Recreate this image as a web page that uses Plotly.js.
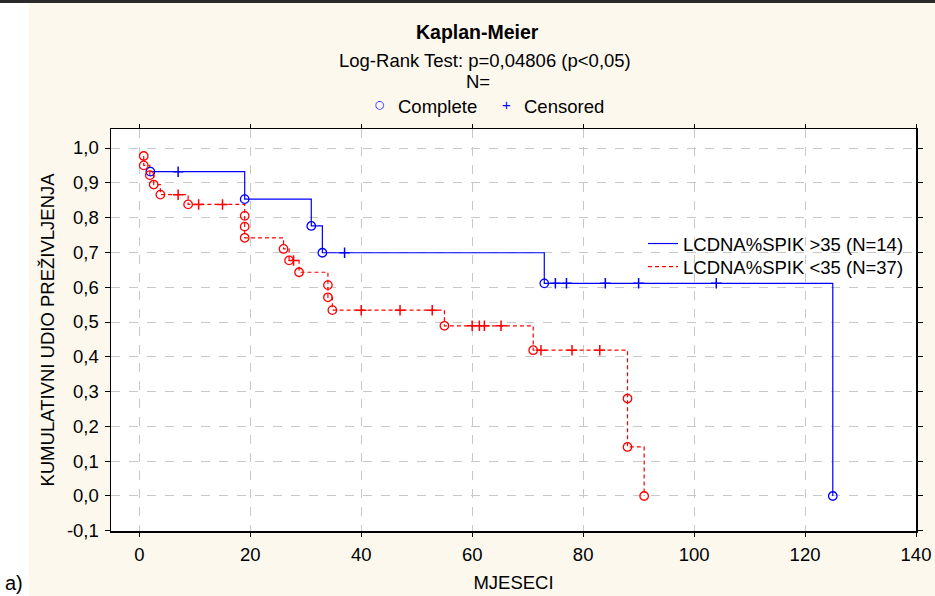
<!DOCTYPE html>
<html>
<head>
<meta charset="utf-8">
<script src="https://cdn.plot.ly/plotly-3.0.1.min.js"></script>
<style>
  html, body { margin: 0; padding: 0; background: #ffffff; }
  #chart { width: 935px; height: 596px; }
</style>
</head>
<body>
<div id="chart"></div>
<script>
// ---- Data ----
// Group LCDNA%SPIK >35 (N=14)
const blueName = "LCDNA%SPIK >35 (N=14)";
const blueEventTime = [2, 19, 31, 33, 73, 125];
const blueEventSurv = [0.932, 0.853, 0.776, 0.699, 0.611, 0.0];
const blueCensTime = [7, 37, 75, 77, 84, 90, 104];
const blueCensSurv = [0.932, 0.699, 0.611, 0.611, 0.611, 0.611, 0.611];

// Group LCDNA%SPIK <35 (N=37)
const redName = "LCDNA%SPIK <35 (N=37)";
const redEventTime = [0.8, 0.8, 1.9, 2.6, 3.8, 8.8, 19, 19, 19, 26, 27, 28.8, 34, 34, 34.8, 55, 71, 88, 88, 91];
const redEventSurv = [0.977, 0.950, 0.922, 0.895, 0.866, 0.838, 0.805, 0.774, 0.742, 0.710, 0.677, 0.643, 0.606, 0.571, 0.534, 0.489, 0.419, 0.280, 0.141, 0.0];
const redCensTime = [7, 10.7, 15, 27.8, 40, 47, 52.8, 60, 61.3, 62.2, 65.2, 72.4, 78, 83];
const redCensSurv = [0.866, 0.838, 0.838, 0.677, 0.534, 0.534, 0.534, 0.489, 0.489, 0.489, 0.489, 0.419, 0.419, 0.419];

// Axis ticks
const xTickVals = [0, 20, 40, 60, 80, 100, 120, 140];
const yTickVals = [-0.1, 0, 0.1, 0.2, 0.3, 0.4, 0.5, 0.6, 0.7, 0.8, 0.9, 1.0];
const yTickText = ["-0,1", "0,0", "0,1", "0,2", "0,3", "0,4", "0,5", "0,6", "0,7", "0,8", "0,9", "1,0"];

// Texts
const titleText = "Kaplan-Meier";
const subtitle1 = "Log-Rank Test: p=0,04806 (p<0,05)";
const subtitle2 = "N=";
const xTitle = "MJESECI";
const yTitle = "KUMULATIVNI UDIO PREŽIVLJENJA";

// ---- Build step curves from events + censored points ----
function stepCurve(eT, eS, cT, cS) {
  const pts = [];
  eT.forEach((t, i) => pts.push({t: t, s: eS[i]}));
  cT.forEach((t, i) => pts.push({t: t, s: cS[i]}));
  pts.sort((a, b) => (a.t - b.t) || (b.s - a.s));
  const xs = [], ys = [];
  let prev = null;
  pts.forEach(p => {
    if (prev !== null) { xs.push(p.t); ys.push(prev); }
    xs.push(p.t); ys.push(p.s);
    prev = p.s;
  });
  return {x: xs, y: ys};
}

const BLUE = "#0000ff", RED = "#ff0000";
const blueStep = stepCurve(blueEventTime, blueEventSurv, blueCensTime, blueCensSurv);
const redStep = stepCurve(redEventTime, redEventSurv, redCensTime, redCensSurv);

const traces = [
  {x: blueStep.x, y: blueStep.y, mode: "lines", name: blueName, legend: "legend",
   line: {color: BLUE, width: 1.2}, hoverinfo: "skip"},
  {x: redStep.x, y: redStep.y, mode: "lines", name: redName, legend: "legend2",
   line: {color: RED, width: 1.2, dash: "4px,3px"}, hoverinfo: "skip"},
  {x: blueEventTime, y: blueEventSurv, mode: "markers", showlegend: false,
   marker: {symbol: "circle-open", size: 8.5, color: BLUE, line: {width: 1.3, color: BLUE}}},
  {x: blueCensTime, y: blueCensSurv, mode: "markers", showlegend: false,
   marker: {symbol: "cross-thin-open", size: 7.5, color: BLUE, line: {width: 1.5, color: BLUE}}},
  {x: redEventTime, y: redEventSurv, mode: "markers", showlegend: false,
   marker: {symbol: "circle-open", size: 8.5, color: RED, line: {width: 1.3, color: RED}}},
  {x: redCensTime, y: redCensSurv, mode: "markers", showlegend: false,
   marker: {symbol: "cross-thin-open", size: 7.5, color: RED, line: {width: 1.5, color: RED}}}
];

// pixel helpers for layout annotations (plot area: x 111..916, y 129..531)
const L = 111, R = 916, T = 129, B = 531;
const px = v => (v - L) / (R - L);
const py = v => (B - v) / (B - T);

const FONT = "Liberation Sans, Arial, sans-serif";
const BEIGE = "#fcf8ee";
const FS = 18.5;

const legendStyle = (yTop) => ({
  x: px(643), y: py(yTop), xanchor: "left", yanchor: "top",
  bgcolor: "rgba(0,0,0,0)", borderwidth: 0,
  font: {family: FONT, size: FS, color: "#000"},
  itemwidth: 30, tracegroupgap: 0
});

const layout = {
  width: 935, height: 596,
  margin: {l: L, r: 935 - R, t: T, b: 596 - B, pad: 0},
  paper_bgcolor: BEIGE,
  plot_bgcolor: "#ffffff",
  separators: ",.",
  font: {family: FONT, size: FS, color: "#000000"},
  showlegend: true,
  legend: legendStyle(225),
  legend2: legendStyle(248),
  xaxis: {
    range: [-5.1, 140], tickvals: xTickVals, ticks: "outside", ticklen: 4,
    tickcolor: "#000", showline: true, linecolor: "#000", linewidth: 1.5, mirror: "ticks",
    showgrid: true, gridcolor: "#c8c8c8", griddash: "dash", gridwidth: 1, zeroline: false,
    tickfont: {family: FONT, size: FS}, ticklabelstandoff: 2,
    title: {text: xTitle, font: {family: FONT, size: FS}, standoff: 12}
  },
  yaxis: {
    range: [-0.1006, 1.0546], tickvals: yTickVals, ticktext: yTickText, ticks: "outside", ticklen: 5,
    tickcolor: "#000", showline: true, linecolor: "#000", linewidth: 1.5, mirror: "ticks",
    showgrid: true, gridcolor: "#c8c8c8", griddash: "dash", gridwidth: 1, zeroline: false,
    tickfont: {family: FONT, size: FS}, ticklabelstandoff: 2,
    title: {text: yTitle, font: {family: FONT, size: FS}, standoff: 7}
  },
  shapes: [
    {type: "rect", xref: "paper", yref: "paper", x0: px(-5), x1: px(29), y0: py(600), y1: py(-5),
     fillcolor: "#ffffff", line: {width: 0}, layer: "below"},
    {type: "rect", xref: "paper", yref: "paper", x0: px(-5), x1: px(940), y0: py(3), y1: py(-5),
     fillcolor: "#2a2a2a", line: {width: 0}, layer: "below"}
  ],
  annotations: [
    {text: "<b>" + titleText + "</b>", xref: "paper", yref: "paper", x: px(477), y: py(32),
     xanchor: "center", yanchor: "middle", showarrow: false, font: {family: FONT, size: 19.5}},
    {text: subtitle1, xref: "paper", yref: "paper", x: px(485), y: py(60),
     xanchor: "center", yanchor: "middle", showarrow: false, font: {family: FONT, size: FS}},
    {text: subtitle2, xref: "paper", yref: "paper", x: px(478), y: py(82),
     xanchor: "center", yanchor: "middle", showarrow: false, font: {family: FONT, size: FS}},
    {text: "○", xref: "paper", yref: "paper", x: px(380), y: py(104),
     xanchor: "center", yanchor: "middle", showarrow: false, font: {family: "DejaVu Sans", size: 11, color: BLUE}},
    {text: "Complete", xref: "paper", yref: "paper", x: px(396), y: py(106),
     xanchor: "left", yanchor: "middle", showarrow: false, font: {family: FONT, size: FS}},
    {text: "+", xref: "paper", yref: "paper", x: px(506), y: py(104),
     xanchor: "center", yanchor: "middle", showarrow: false, font: {family: FONT, size: 15, color: BLUE}},
    {text: "Censored", xref: "paper", yref: "paper", x: px(522), y: py(106),
     xanchor: "left", yanchor: "middle", showarrow: false, font: {family: FONT, size: FS}},
    {text: "a)", xref: "paper", yref: "paper", x: px(3), y: py(570),
     xanchor: "left", yanchor: "top", showarrow: false, font: {family: FONT, size: 20}}
  ]
};

Plotly.newPlot("chart", traces, layout, {displayModeBar: false, staticPlot: true});
</script>
</body>
</html>
